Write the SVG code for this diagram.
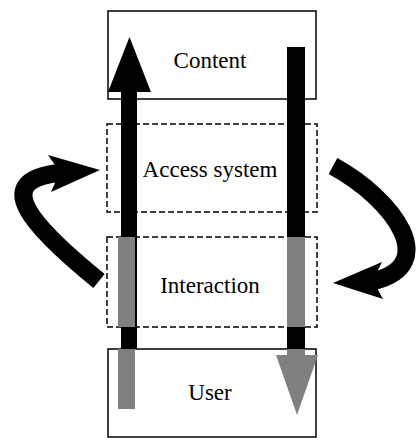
<svg xmlns="http://www.w3.org/2000/svg" width="416" height="438" viewBox="0 0 416 438">
  <style>
    .box { fill: #ffffff; stroke: #000000; stroke-width: 1.5; }
    .dash { fill: none; stroke: #000000; stroke-width: 1.5; stroke-dasharray: 6 3; }
    .label { font-family: "Liberation Serif", "Times New Roman", serif; font-size: 23px; fill: #000000; text-anchor: middle; }
    .blk { fill: #000000; }
    .gry { fill: #808080; }
    .loop { fill: none; stroke: #000000; stroke-width: 18; stroke-linecap: butt; }
  </style>
  <rect width="416" height="438" fill="#ffffff"/>

  <!-- layers -->
  <g id="content">
    <rect class="box" x="108" y="11" width="208" height="88"/>
    <text class="label" x="210" y="68">Content</text>
  </g>
  <g id="access-system">
    <rect class="dash" x="107" y="124" width="210" height="88"/>
    <text class="label" x="210" y="177">Access system</text>
  </g>
  <g id="interaction">
    <rect class="dash" x="107" y="237" width="210" height="90"/>
    <text class="label" x="210" y="293">Interaction</text>
  </g>
  <g id="user">
    <rect class="box" x="108" y="349" width="208" height="88"/>
    <text class="label" x="210" y="400">User</text>
  </g>

  <!-- flows between the layers -->
  <g id="connectors">
    <!-- upward flow: user to content -->
    <rect class="blk" x="121" y="90" width="16" height="259"/>
    <polygon class="blk" points="108,92 129.5,37 151,92"/>
    <rect class="gry" x="118" y="237" width="17" height="90"/>
    <rect class="gry" x="118" y="349" width="17" height="60"/>

    <!-- downward flow: content to user -->
    <rect class="blk" x="287" y="47" width="18" height="302"/>
    <rect class="gry" x="287" y="237" width="18" height="90"/>
    <rect class="gry" x="287" y="349" width="18" height="8"/>
    <polygon class="gry" points="276,355 297,415 318,355"/>

    <!-- feedback loop on the left -->
    <path class="loop" d="M 99 281 C 30 225, -10 180, 60 173"/>
    <polygon class="blk" points="100,170 48,155 55,165 55,183 51,192"/>

    <!-- feedback loop on the right -->
    <path class="loop" d="M 333 166 C 395 200, 440 265, 374 281"/>
    <polygon class="blk" points="333,283 382,262 377,272 378,290 383,299"/>
  </g>
</svg>
